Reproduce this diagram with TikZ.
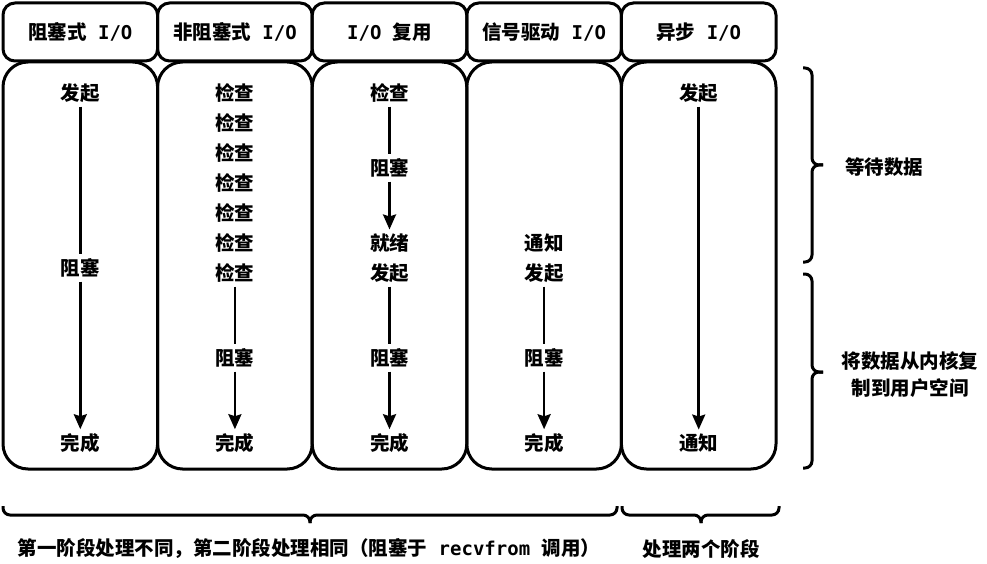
\documentclass[tikz,border=0pt]{standalone}
\usepackage{fontspec}
\setmainfont{Noto Sans CJK SC}
\newfontfamily\latfont{DejaVu Sans Mono}
\newcommand{\lat}[1]{{\latfont\bfseries\fontsize{19}{22}\selectfont #1}}
\usetikzlibrary{arrows.meta}
\begin{document}
\begin{tikzpicture}[x=1pt,y=-1pt,
  box/.style={draw, line width=3pt, inner sep=0pt},
  hdr/.style={box, rounded corners=12pt, minimum width=154.6pt, minimum height=58pt, font=\bfseries\fontsize{19.5}{22}\selectfont},
  body/.style={box, rounded corners=25pt, minimum width=154.6pt, minimum height=407pt},
  lbl/.style={font=\bfseries\fontsize{19.5}{27}\selectfont, inner sep=4pt},
  seg/.style={line width=2.5pt},
  arr/.style={seg, -{Stealth[length=15pt,width=13pt,inset=2pt]}},
  brc/.style={line width=3pt, rounded corners=7pt}]
\useasboundingbox (0,0) rectangle (987,564);

% headers
\node[hdr] (h1) at (80.3,32) {阻塞式\lat{ I/O}};
\node[hdr] (h2) at (234.9,32) {非阻塞式\lat{ I/O}};
\node[hdr] (h3) at (389.5,32) {\lat{I/O }复用};
\node[hdr] (h4) at (544.1,32) {信号驱动\lat{ I/O}};
\node[hdr] (h5) at (698.7,32) {异步\lat{ I/O}};

% bodies
\node[body] (b1) at (80.3,265.5) {};
\node[body] (b2) at (234.9,265.5) {};
\node[body] (b3) at (389.5,265.5) {};
\node[body] (b4) at (544.1,265.5) {};
\node[body] (b5) at (698.7,265.5) {};

% column 1
\node[lbl] (a1) at (80.3,93) {发起};
\node[lbl] (a2) at (80.3,268) {阻塞};
\node[lbl] (a3) at (80.3,443) {完成};
\draw[seg] (a1) -- (a2);
\draw[arr] (a2) -- (a3);

% column 2
\foreach \i/\y in {1/93,2/123,3/153,4/183,5/213,6/243,7/273}
  \node[lbl] (c\i) at (234.9,\y) {检查};
\node[lbl] (c8) at (234.9,358) {阻塞};
\node[lbl] (c9) at (234.9,443) {完成};
\draw[seg] (c7) -- (c8);
\draw[arr] (c8) -- (c9);

% column 3
\node[lbl] (d1) at (389.5,93) {检查};
\node[lbl] (d2) at (389.5,168) {阻塞};
\node[lbl] (d3) at (389.5,243) {就绪};
\node[lbl] (d4) at (389.5,273) {发起};
\node[lbl] (d5) at (389.5,358) {阻塞};
\node[lbl] (d6) at (389.5,443) {完成};
\draw[seg] (d1) -- (d2);
\draw[arr] (d2) -- (d3);
\draw[seg] (d4) -- (d5);
\draw[arr] (d5) -- (d6);

% column 4
\node[lbl] (e1) at (544.1,243) {通知};
\node[lbl] (e2) at (544.1,273) {发起};
\node[lbl] (e3) at (544.1,358) {阻塞};
\node[lbl] (e4) at (544.1,443) {完成};
\draw[seg] (e2) -- (e3);
\draw[arr] (e3) -- (e4);

% column 5
\node[lbl] (f1) at (698.7,93) {发起};
\node[lbl] (f2) at (698.7,443) {通知};
\draw[arr] (f1) -- (f2);

% right braces
\coordinate (r1t) at (803,68);
\coordinate (r1b) at (803,262);
\coordinate (r1m) at (812,165);
\coordinate (r1p) at (823,165);
\draw[brc] (r1t) -| (r1m) -- (r1p);
\draw[brc] (r1b) -| (r1m) -- (r1p);
\coordinate (r2t) at (803,274);
\coordinate (r2b) at (803,468);
\coordinate (r2m) at (812,372);
\coordinate (r2p) at (823,372);
\draw[brc] (r2t) -| (r2m) -- (r2p);
\draw[brc] (r2b) -| (r2m) -- (r2p);
\node[lbl] (t1) at (884,167) {等待数据};
\node[lbl, align=center] (t2) at (910,375) {将数据从内核复\\制到用户空间};

% bottom braces
\coordinate (u1l) at (3,506);
\coordinate (u1r) at (617,506);
\coordinate (u1m) at (310,515);
\coordinate (u1p) at (310,523);
\draw[brc] (u1l) |- (u1m) -- (u1p);
\draw[brc] (u1r) |- (u1m) -- (u1p);
\coordinate (u2l) at (622,506);
\coordinate (u2r) at (779,506);
\coordinate (u2m) at (701,515);
\coordinate (u2p) at (701,523);
\draw[brc] (u2l) |- (u2m) -- (u2p);
\draw[brc] (u2r) |- (u2m) -- (u2p);
\node[lbl] (s1) at (309,549) {第一阶段处理不同，第二阶段处理相同（阻塞于\lat{ recvfrom }调用）};
\node[lbl] (s2) at (701,549) {处理两个阶段};
\end{tikzpicture}
\end{document}
